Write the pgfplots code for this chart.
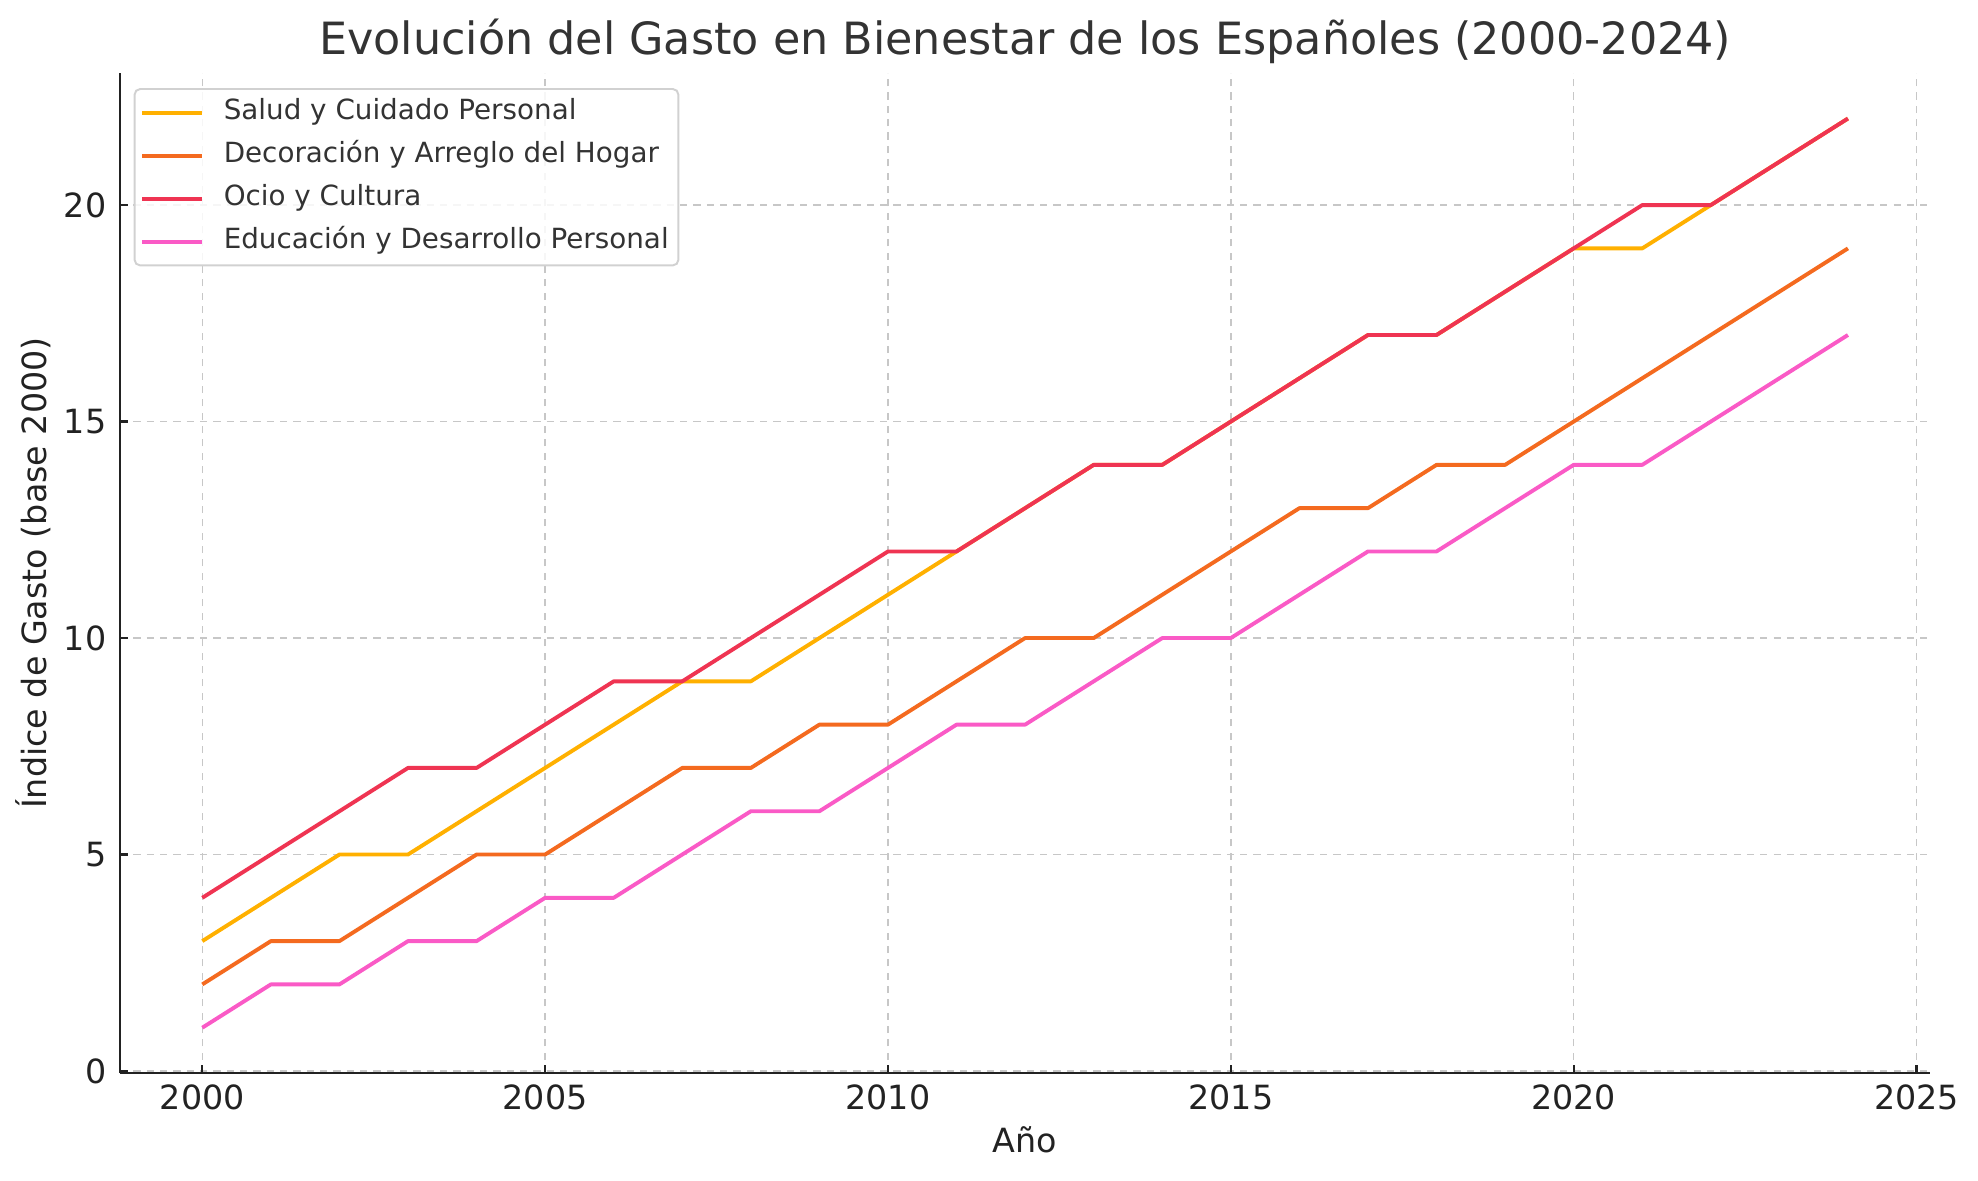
\documentclass[border=0pt]{standalone}
\usepackage{fontspec}
\setmainfont{DejaVu Sans}
\usepackage{pgfplots}
\pgfplotsset{compat=1.18}
\usepackage{pgfplotstable}
\definecolor{cSalud}{HTML}{FFB000}
\definecolor{cDeco}{HTML}{F46A1F}
\definecolor{cOcio}{HTML}{EF3452}
\definecolor{cEdu}{HTML}{FA5AC6}
\definecolor{txt}{HTML}{333333}
\definecolor{tick}{HTML}{222222}

\pgfplotstableread{
year salud deco ocio edu
2000 3 2 4 1
2001 4 3 5 2
2002 5 3 6 2
2003 5 4 7 3
2004 6 5 7 3
2005 7 5 8 4
2006 8 6 9 4
2007 9 7 9 5
2008 9 7 10 6
2009 10 8 11 6
2010 11 8 12 7
2011 12 9 12 8
2012 13 10 13 8
2013 14 10 14 9
2014 14 11 14 10
2015 15 12 15 10
2016 16 13 16 11
2017 17 13 17 12
2018 17 14 17 12
2019 18 14 18 13
2020 19 15 19 14
2021 19 16 20 14
2022 20 17 20 15
2023 21 18 21 16
2024 22 19 22 17
}\datatable

\begin{document}
\begin{tikzpicture}
\path[use as bounding box] (-43.2pt,-38.5pt) rectangle (668.8pt,386.3pt);
\begin{axis}[
  at={(0,0)}, anchor=south west,
  scale only axis,
  width=651.6pt, height=360pt,
  xmin=1998.8, xmax=2025.2,
  ymin=-0.05, ymax=23.05,
  xtick={2000,2005,2010,2015,2020,2025},
  ytick={0,5,10,15,20},
  axis x line=bottom, axis y line=left,
  axis line style={-, line width=0.9pt, color=tick},
  tick align=inside,
  major tick length=3pt,
  tick style={line width=0.8pt, color=tick},
  /pgf/number format/assume math mode=true,
  /pgf/number format/1000 sep={},
  ticklabel style={font=\fontsize{12}{14}\selectfont, text=tick},
  xticklabel style={anchor=base, yshift=-13pt, inner sep=0pt},
  yticklabel style={anchor=east, xshift=-4.7pt, inner sep=0pt},
  grid=major,
  major grid style={dash pattern=on 2.6pt off 2.2pt, color=black!22, line width=0.5pt},
  title={Evolución del Gasto en Bienestar de los Españoles (2000-2024)},
  title style={at={(axis description cs:0.5,1)}, anchor=base, yshift=0.8pt,
    font=\fontsize{16}{19}\selectfont, text=txt, inner sep=0pt},
  xlabel={Año},
  xlabel style={at={(axis description cs:0.5,0)}, anchor=base, yshift=-28.4pt,
    font=\fontsize{12}{14}\selectfont, text=tick, inner sep=0pt},
  ylabel={Índice de Gasto (base 2000)},
  ylabel style={at={([xshift=-26.3pt]axis description cs:0,0.5)}, anchor=base, rotate=0,
    font=\fontsize{12}{14}\selectfont, text=tick, inner sep=0pt},
  legend style={at={(axis description cs:0,1)}, anchor=north west,
    xshift=4.9pt, yshift=-5.4pt,
    draw=black!18, line width=0.7pt, rounded corners=2pt, fill=white, fill opacity=0.85, text opacity=1,
    font=\fontsize{10}{12}\selectfont, text=txt,
    inner xsep=2pt, inner ysep=2pt, row sep=2.5pt,
    nodes={text height=7.5pt, text depth=2.5pt, inner sep=1.5pt},
    cells={anchor=west}},
  legend image code/.code={\draw[#1] (0pt,0pt) -- (21.5pt,0pt); \path (27.2pt,0pt);},
  every axis plot/.append style={line width=1.4pt, line join=round},
]
\addplot[color=cSalud] table[x=year, y=salud] {\datatable};
\addlegendentry{Salud y Cuidado Personal}
\addplot[color=cDeco] table[x=year, y=deco] {\datatable};
\addlegendentry{Decoración y Arreglo del Hogar}
\addplot[color=cOcio] table[x=year, y=ocio] {\datatable};
\addlegendentry{Ocio y Cultura}
\addplot[color=cEdu] table[x=year, y=edu] {\datatable};
\addlegendentry{Educación y Desarrollo Personal}
\end{axis}
\end{tikzpicture}
\end{document}
